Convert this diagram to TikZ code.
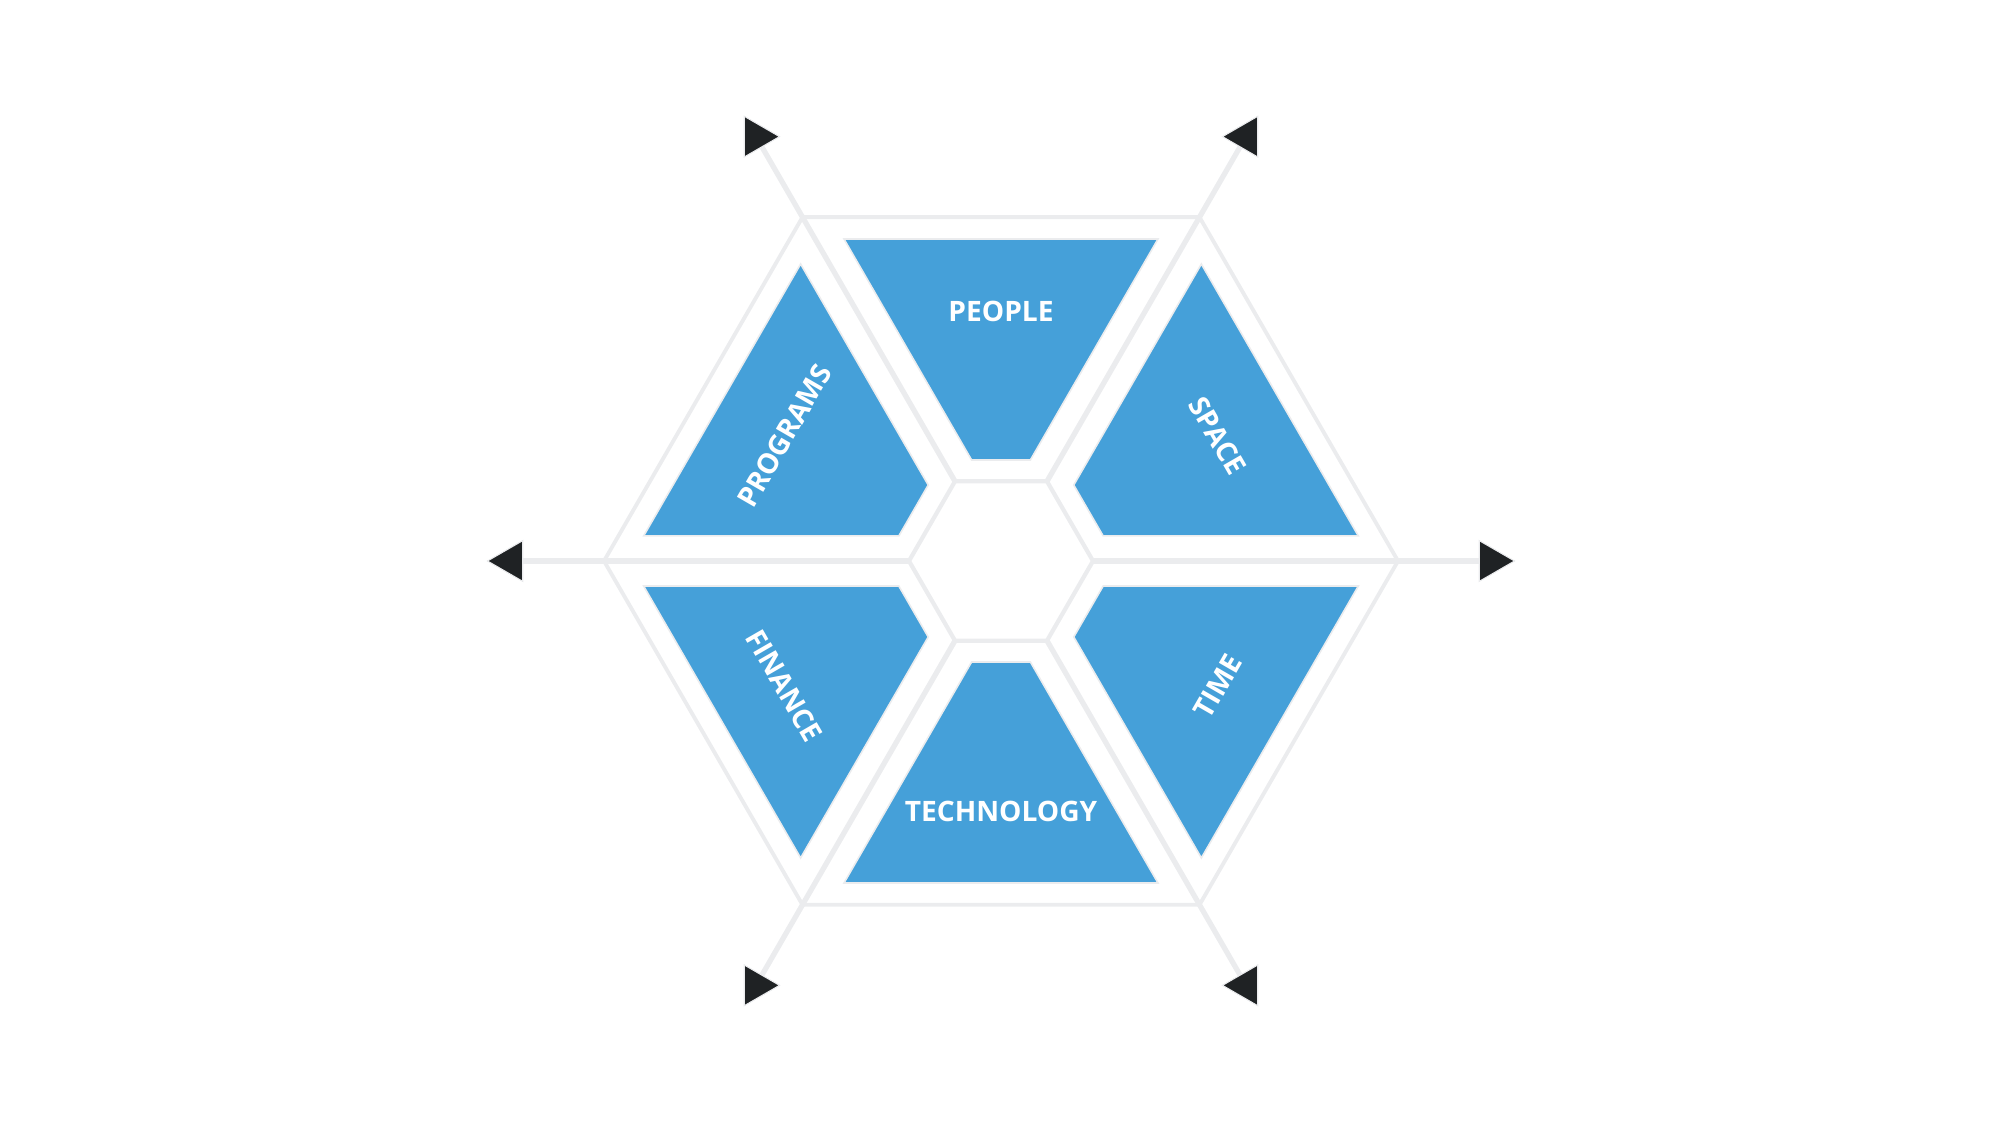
\documentclass[tikz,border=0pt]{standalone}
\usepackage{fontspec}
\setsansfont{Open Sans}
\usetikzlibrary{shapes.geometric}
\definecolor{segblue}{HTML}{45A0D9}
\definecolor{rimgrey}{HTML}{EBECEE}
\definecolor{tipdark}{HTML}{1F2224}
\tikzset{
  hexout/.style={draw=rimgrey, line width=1.1pt},
  hexin/.style={draw=rimgrey, line width=1.2pt},
  spoke/.style={draw=rimgrey, line width=1.5pt},
  segment/.style={fill=segblue, draw=rimgrey, line width=0.45pt},
  segtext/.style={text=white, font=\sffamily\bfseries\fontsize{8}{10}\selectfont},
  tiphead/.style={regular polygon, regular polygon sides=3, minimum size=0.47cm,
    inner sep=0pt, fill=tipdark, draw=rimgrey, line width=0.3pt}
}
\begin{document}
\begin{tikzpicture}[x=0.01cm, y=0.01cm]
\useasboundingbox (-1001,-564) rectangle (999,561);
\foreach \a in {0,60,...,300} {
  \coordinate (in\a) at (\a:92);
  \coordinate (out\a) at (\a:397);
  \coordinate (tip\a) at (\a:490);
}
% blue segments
\foreach \a in {30,90,...,330}
  \draw[segment, rotate=\a-90] (-29.4,101) -- (29.4,101) -- (157,322) -- (-157,322) -- cycle;
% hexagons and spokes
\draw[hexout] (out0) -- (out60) -- (out120) -- (out180) -- (out240) -- (out300) -- cycle;
\draw[hexin] (in0) -- (in60) -- (in120) -- (in180) -- (in240) -- (in300) -- cycle;
\foreach \a in {0,60,...,300}
  \draw[spoke] (in\a) -- (tip\a);
\foreach \a/\r in {0/-90, 60/90, 120/-90, 180/90, 240/-90, 300/90}
  \node[tiphead, regular polygon rotate=\r] (head\a) at (tip\a) {};
% labels
\node[segtext] (people) at (90:250) {PEOPLE};
\node[segtext, rotate=-60] (space) at (30:250) {SPACE};
\node[segtext, rotate=60] (time) at (-30:250) {TIME};
\node[segtext] (technology) at (-90:250) {TECHNOLOGY};
\node[segtext, rotate=-60] (finance) at (210:250) {FINANCE};
\node[segtext, rotate=60] (programs) at (150:250) {PROGRAMS};
\end{tikzpicture}
\end{document}
